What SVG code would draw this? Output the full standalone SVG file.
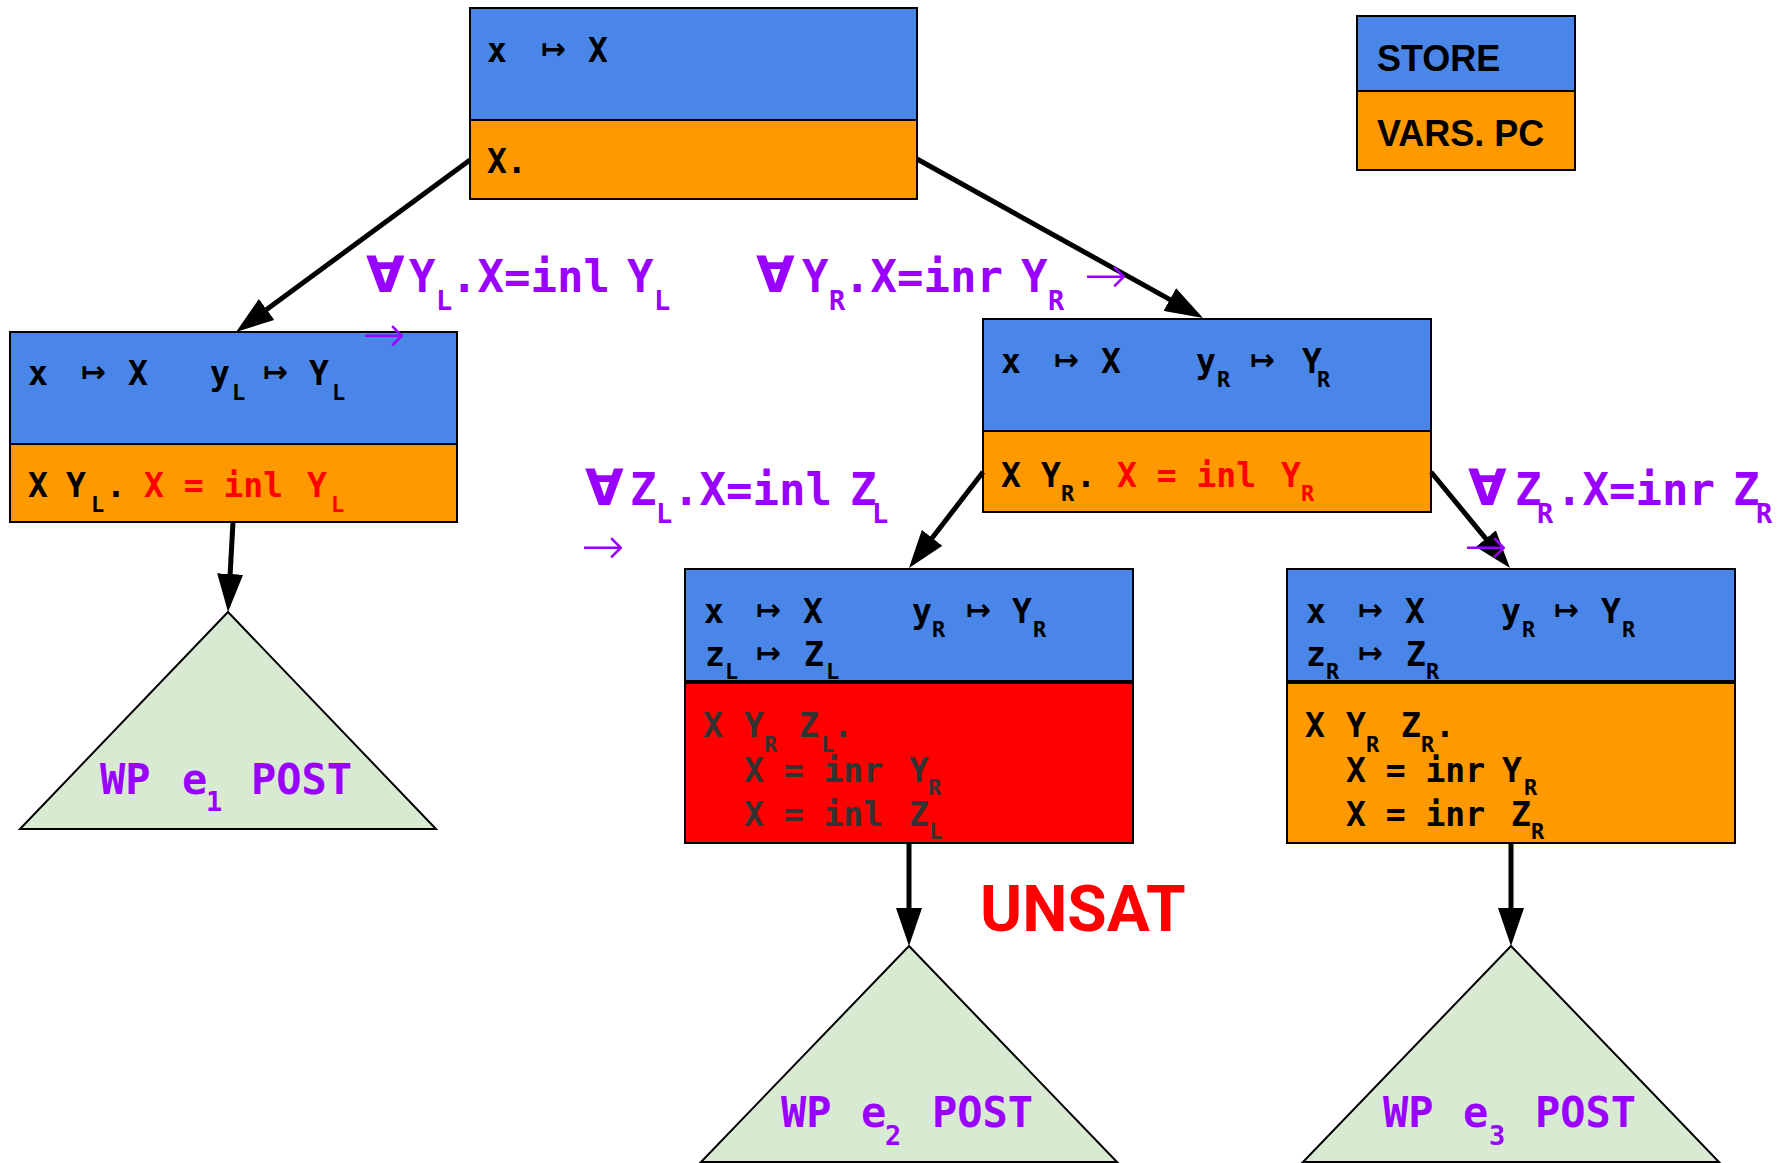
<svg xmlns="http://www.w3.org/2000/svg" width="1779" height="1163" viewBox="0 0 1779 1163">
  <style>
    .store { fill: #4a86e8; stroke: #000; stroke-width: 2; }
    .pc { fill: #ff9900; stroke: #000; stroke-width: 2; }
    .unsat { fill: #ff0000; stroke: #000; stroke-width: 2; }
    .tri { fill: #d9ead3; stroke: #000; stroke-width: 2; }
    .m { font-family: "DejaVu Sans Mono", monospace; font-weight: bold; font-size: 33px; fill: #000; }
    .s { font-size: 22px; }
    .mt { font-family: "DejaVu Sans", sans-serif; font-weight: bold; font-size: 30px; fill: #000; }
    .red { fill: #ff0000; }
    .dim { fill: #333333; }
    .lbl { font-family: "DejaVu Sans Mono", monospace; font-weight: bold; font-size: 44px; fill: #9900ff; }
    .ls { font-size: 27px; }
    .all { font-family: "DejaVu Sans", sans-serif; font-weight: bold; font-size: 50px; fill: #9900ff; }
    .to { font-family: "DejaVu Sans", sans-serif; font-weight: 200; font-size: 52px; fill: #9900ff; }
    .wp { font-family: "DejaVu Sans Mono", monospace; font-weight: bold; font-size: 42px; fill: #9900ff; }
    .ws { font-size: 27px; }
    .leg { font-family: "Liberation Sans", Arial, sans-serif; font-weight: bold; font-size: 36px; fill: #000; }
    .edge { stroke: #000; stroke-width: 5; fill: none; marker-end: url(#head); }
  </style>
  <defs>
    <marker id="head" viewBox="0 0 38 26" refX="8" refY="13" markerWidth="38" markerHeight="26" markerUnits="userSpaceOnUse" orient="auto">
      <path d="M0,0 L38,13 L0,26 Z" fill="#000"/>
    </marker>
  </defs>

  <!-- legend -->
  <g id="legend">
    <rect class="store" x="1357" y="16" width="218" height="75"/>
    <rect class="pc" x="1357" y="91" width="218" height="79"/>
    <text class="leg" x="1377" y="71">STORE</text>
    <text class="leg" x="1377" y="146">VARS. PC</text>
  </g>

  <!-- root state -->
  <g id="root">
    <rect class="store" x="470" y="8" width="447" height="112"/>
    <rect class="pc" x="470" y="120" width="447" height="79"/>
    <text class="m" x="487" y="62">x</text>
    <text class="mt" x="541" y="59">↦</text>
    <text class="m" x="588" y="62">X</text>
    <text class="m" x="487" y="173">X.</text>
  </g>

  <!-- left branch state -->
  <g id="left">
    <rect class="store" x="10" y="332" width="447" height="112"/>
    <rect class="pc" x="10" y="444" width="447" height="78"/>
    <text class="m" x="28" y="385">x</text>
    <text class="mt" x="81" y="382">↦</text>
    <text class="m" x="128" y="385">X</text>
    <text class="m" x="210" y="385">y</text>
    <text class="m s" x="232" y="400">L</text>
    <text class="mt" x="263" y="382">↦</text>
    <text class="m" x="309" y="385">Y</text>
    <text class="m s" x="332" y="400">L</text>
    <text class="m" x="28" y="497">X</text>
    <text class="m" x="66" y="497">Y</text>
    <text class="m s" x="91" y="512">L</text>
    <text class="m" x="106" y="497">.</text>
    <text class="m red" x="144" y="497" xml:space="preserve">X = inl</text>
    <text class="m red" x="307" y="497">Y</text>
    <text class="m s red" x="331" y="512">L</text>
  </g>

  <!-- right branch state -->
  <g id="right">
    <rect class="store" x="983" y="319" width="448" height="112"/>
    <rect class="pc" x="983" y="431" width="448" height="81"/>
    <text class="m" x="1001" y="373">x</text>
    <text class="mt" x="1054" y="370">↦</text>
    <text class="m" x="1101" y="373">X</text>
    <text class="m" x="1196" y="373">y</text>
    <text class="m s" x="1217" y="387">R</text>
    <text class="mt" x="1250" y="370">↦</text>
    <text class="m" x="1302" y="373">Y</text>
    <text class="m s" x="1317" y="387">R</text>
    <text class="m" x="1001" y="487">X</text>
    <text class="m" x="1041" y="487">Y</text>
    <text class="m s" x="1061" y="501">R</text>
    <text class="m" x="1076" y="487">.</text>
    <text class="m red" x="1117" y="487" xml:space="preserve">X = inl</text>
    <text class="m red" x="1281" y="487">Y</text>
    <text class="m s red" x="1301" y="501">R</text>
  </g>

  <!-- right-left state (unsatisfiable) -->
  <g id="right-left">
    <rect class="store" x="685" y="569" width="448" height="112"/>
    <rect class="unsat" x="685" y="683" width="448" height="160"/>
    <text class="m" x="704" y="623">x</text>
    <text class="mt" x="756" y="620">↦</text>
    <text class="m" x="803" y="623">X</text>
    <text class="m" x="912" y="623">y</text>
    <text class="m s" x="932" y="637">R</text>
    <text class="mt" x="966" y="620">↦</text>
    <text class="m" x="1012" y="623">Y</text>
    <text class="m s" x="1033" y="637">R</text>
    <text class="m" x="705" y="666">z</text>
    <text class="m s" x="725" y="679">L</text>
    <text class="mt" x="756" y="663">↦</text>
    <text class="m" x="804" y="666">Z</text>
    <text class="m s" x="826" y="679">L</text>
    <text class="m dim" x="703" y="737">X</text>
    <text class="m dim" x="744" y="737">Y</text>
    <text class="m s dim" x="764" y="752">R</text>
    <text class="m dim" x="799" y="737">Z</text>
    <text class="m s dim" x="821" y="752">L</text>
    <text class="m dim" x="833" y="737">.</text>
    <text class="m dim" x="744" y="782" xml:space="preserve">X = inr</text>
    <text class="m dim" x="909" y="782">Y</text>
    <text class="m s dim" x="928" y="795">R</text>
    <text class="m dim" x="744" y="826" xml:space="preserve">X = inl</text>
    <text class="m dim" x="909" y="826">Z</text>
    <text class="m s dim" x="929" y="839">L</text>
  </g>

  <!-- right-right state -->
  <g id="right-right">
    <rect class="store" x="1287" y="569" width="448" height="112"/>
    <rect class="pc" x="1287" y="683" width="448" height="160"/>
    <text class="m" x="1306" y="623">x</text>
    <text class="mt" x="1358" y="620">↦</text>
    <text class="m" x="1405" y="623">X</text>
    <text class="m" x="1501" y="623">y</text>
    <text class="m s" x="1522" y="637">R</text>
    <text class="mt" x="1554" y="620">↦</text>
    <text class="m" x="1601" y="623">Y</text>
    <text class="m s" x="1622" y="637">R</text>
    <text class="m" x="1306" y="666">z</text>
    <text class="m s" x="1326" y="679">R</text>
    <text class="mt" x="1358" y="663">↦</text>
    <text class="m" x="1406" y="666">Z</text>
    <text class="m s" x="1426" y="679">R</text>
    <text class="m" x="1305" y="737">X</text>
    <text class="m" x="1346" y="737">Y</text>
    <text class="m s" x="1366" y="752">R</text>
    <text class="m" x="1401" y="737">Z</text>
    <text class="m s" x="1421" y="752">R</text>
    <text class="m" x="1435" y="737">.</text>
    <text class="m" x="1346" y="782" xml:space="preserve">X = inr</text>
    <text class="m" x="1502" y="782">Y</text>
    <text class="m s" x="1524" y="795">R</text>
    <text class="m" x="1346" y="826" xml:space="preserve">X = inr</text>
    <text class="m" x="1511" y="826">Z</text>
    <text class="m s" x="1531" y="839">R</text>
  </g>

  <!-- weakest-precondition subtrees -->
  <g id="wp1">
    <polygon class="tri" points="228,612 20,829 436,829"/>
    <text class="wp" x="100" y="794">WP</text>
    <text class="wp" x="182" y="794">e</text>
    <text class="wp ws" x="206" y="811">1</text>
    <text class="wp" x="251" y="794">POST</text>
  </g>
  <g id="wp2">
    <polygon class="tri" points="909,946 701,1162 1117,1162"/>
    <text class="wp" x="781" y="1127">WP</text>
    <text class="wp" x="861" y="1127">e</text>
    <text class="wp ws" x="885" y="1145">2</text>
    <text class="wp" x="932" y="1127">POST</text>
  </g>
  <g id="wp3">
    <polygon class="tri" points="1511,946 1303,1162 1719,1162"/>
    <text class="wp" x="1383" y="1127">WP</text>
    <text class="wp" x="1463" y="1127">e</text>
    <text class="wp ws" x="1489" y="1145">3</text>
    <text class="wp" x="1535" y="1127">POST</text>
  </g>

  <!-- connectors -->
  <g id="edges">
    <line class="edge" x1="470" y1="160" x2="260.2" y2="314.2"/>
    <line class="edge" x1="917" y1="159" x2="1176.8" y2="303.4"/>
    <line class="edge" x1="233" y1="522" x2="229.7" y2="582"/>
    <line class="edge" x1="983" y1="472" x2="927.3" y2="544.2"/>
    <line class="edge" x1="1431" y1="472" x2="1490.9" y2="544.8"/>
    <line class="edge" x1="909" y1="843" x2="909" y2="916"/>
    <line class="edge" x1="1511" y1="843" x2="1511" y2="916"/>
  </g>

  <!-- branch conditions -->
  <g id="labels">
    <text class="all" x="366" y="292">∀</text>
    <text class="lbl" x="409" y="292">Y</text>
    <text class="lbl ls" x="436" y="310">L</text>
    <text class="lbl" x="451" y="292">.X=inl</text>
    <text class="lbl" x="627" y="292">Y</text>
    <text class="lbl ls" x="654" y="310">L</text>
    <text class="to" x="362" y="352">→</text>

    <text class="all" x="756" y="292">∀</text>
    <text class="lbl" x="802" y="292">Y</text>
    <text class="lbl ls" x="829" y="310">R</text>
    <text class="lbl" x="844" y="292">.X=inr</text>
    <text class="lbl" x="1021" y="292">Y</text>
    <text class="lbl ls" x="1048" y="310">R</text>
    <text class="to" x="1084" y="293">→</text>

    <text class="all" x="585" y="505">∀</text>
    <text class="lbl" x="630" y="505">Z</text>
    <text class="lbl ls" x="656" y="523">L</text>
    <text class="lbl" x="673" y="505">.X=inl</text>
    <text class="lbl" x="850" y="505">Z</text>
    <text class="lbl ls" x="872" y="523">L</text>
    <text class="to" x="581" y="564">→</text>

    <text class="all" x="1468" y="505">∀</text>
    <text class="lbl" x="1515" y="505">Z</text>
    <text class="lbl ls" x="1537" y="523">R</text>
    <text class="lbl" x="1556" y="505">.X=inr</text>
    <text class="lbl" x="1733" y="505">Z</text>
    <text class="lbl ls" x="1756" y="523">R</text>
    <text class="to" x="1464" y="564">→</text>
  </g>

  <text id="unsat" x="980" y="931" font-family="Roboto, sans-serif" font-weight="bold" font-size="64" fill="#ff0000">UNSAT</text>
</svg>
